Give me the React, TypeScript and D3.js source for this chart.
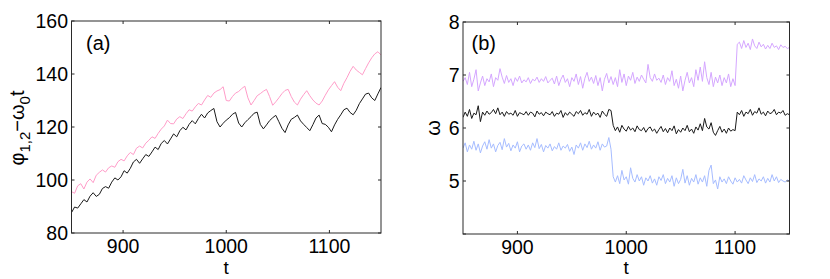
import React from "react";
import * as d3 from "d3";

// Panel (a): phases minus omega0 t, sampled every 3 time units from 850 to 1150
const phaseBlack = [
  87.7, 89.8, 89.4, 91.0, 92.6, 91.7, 93.9, 95.2, 93.8, 94.6,
  96.8, 97.5, 96.9, 99.2, 100.8, 100.0, 101.2, 103.5, 102.6, 104.4,
  106.8, 107.8, 106.3, 108.0, 109.6, 108.9, 110.6, 112.4, 111.5, 113.8,
  114.9, 113.6, 115.5, 117.4, 116.3, 118.6, 119.9, 118.9, 121.0, 122.4,
  121.2, 123.2, 124.8, 123.4, 125.3, 126.2, 127.0, 122.0, 120.0, 121.4,
  122.6, 123.5, 124.8, 125.5, 121.5, 120.0, 121.6, 122.8, 123.9, 125.2,
  125.6, 121.0, 119.3, 120.8, 122.4, 123.5, 124.4, 122.0, 119.5, 117.9,
  120.8, 122.9, 123.6, 124.5, 122.3, 121.0, 119.8, 118.6, 120.9, 123.4,
  124.5, 121.3, 121.0, 119.9, 118.2, 120.8, 122.9, 124.6, 126.5, 127.1,
  125.5, 124.6, 126.3, 128.8, 130.6, 132.4, 132.8, 131.0, 130.0, 132.5,
  134.9,
];
const phasePink = [
  95.6, 95.0, 97.8, 98.6, 96.6, 99.2, 100.4, 99.0, 101.8, 102.9,
  103.8, 103.0, 104.6, 105.3, 104.8, 106.9, 107.8, 107.2, 109.1, 110.4,
  109.6, 112.0, 112.8, 112.1, 113.9, 115.0, 116.3, 115.7, 117.6, 119.2,
  120.4, 122.6, 121.3, 121.2, 123.0, 123.9, 123.2, 125.0, 126.5, 126.0,
  127.6, 128.9, 128.3, 130.2, 131.9, 131.2, 132.8, 133.6, 134.1, 135.2,
  130.0, 129.8, 131.5, 132.8, 133.4, 134.5, 135.4, 131.0, 128.3, 130.0,
  131.8, 132.6, 133.5, 134.2, 131.5, 128.2, 129.5, 131.0, 132.6, 133.8,
  134.2, 131.5, 129.4, 128.3, 130.5, 132.2, 133.7, 131.8, 130.2, 129.0,
  128.3, 129.8, 132.0, 134.0, 135.6, 137.1, 135.0, 133.7, 136.5, 138.6,
  141.0, 142.9, 141.5, 140.6, 139.7, 142.0, 144.2, 146.1, 147.6, 148.4,
  147.2,
];

// Panel (b): frequencies, sampled every 2 time units from 850 to 1150
const omegaPurple = [
  6.88, 6.95, 6.82, 7.05, 6.78, 6.92, 7.10, 6.70, 6.85, 6.98,
  6.80, 6.93, 6.87, 7.02, 6.78, 6.95, 6.90, 7.12, 6.96, 6.84,
  6.99, 6.86, 6.93, 6.80, 6.95, 6.88, 6.98, 6.85, 6.91, 6.87,
  6.95, 6.84, 6.92, 6.89, 6.96, 6.86, 6.93, 6.88, 6.97, 6.85,
  6.90, 6.94, 6.83, 6.98, 6.80, 6.92, 7.00, 6.86, 6.93, 6.78,
  6.95, 6.88, 7.02, 6.82, 6.97, 6.75, 6.94, 7.05, 6.88, 6.96,
  6.84, 6.99, 6.80, 6.95, 6.70, 6.92, 7.03, 6.85, 6.97, 6.82,
  6.95, 6.78, 7.10, 6.86, 7.02, 6.80, 6.98, 6.90, 7.05, 6.84,
  6.96, 6.88, 7.00, 6.92, 6.85, 7.20, 6.95, 6.88, 7.02, 6.90,
  6.94, 6.86, 7.00, 6.82, 6.95, 6.88, 7.08, 6.80, 6.92, 6.75,
  6.98, 6.70, 6.90, 7.05, 6.85, 6.95, 6.78, 7.10, 6.90, 7.15,
  6.88, 7.25, 6.95, 6.82, 7.05, 6.78, 6.96, 6.85, 7.00, 6.80,
  6.95, 6.85, 7.02, 6.78, 6.93, 6.80, 7.58, 7.62, 7.50, 7.65,
  7.52, 7.60, 7.48, 7.68, 7.55, 7.50, 7.62, 7.53, 7.58, 7.49,
  7.56, 7.50, 7.60, 7.52, 7.55, 7.48, 7.57, 7.52, 7.54, 7.50,
  7.52,
];
const omegaBlack = [
  6.20, 6.30, 6.22, 6.35, 6.18, 6.28, 6.25, 6.42, 6.12, 6.30,
  6.24, 6.32, 6.26, 6.29, 6.35, 6.27, 6.38, 6.25, 6.30, 6.22,
  6.31, 6.26, 6.28, 6.24, 6.33, 6.22, 6.29, 6.27, 6.25, 6.31,
  6.24, 6.30, 6.28, 6.21, 6.32, 6.26, 6.29, 6.23, 6.30, 6.27,
  6.25, 6.31, 6.22, 6.28, 6.26, 6.33, 6.20, 6.29, 6.24, 6.30,
  6.26, 6.22, 6.31, 6.27, 6.33, 6.24, 6.29, 6.26, 6.35, 6.22,
  6.30, 6.25, 6.28, 6.20, 6.32, 6.26, 6.22, 6.35, 6.33, 6.05,
  5.95, 6.02, 5.92, 6.05, 5.98, 5.94, 6.03, 5.96, 6.00, 5.93,
  6.04, 5.97, 5.95, 6.01, 5.92, 5.99, 6.02, 5.94, 5.98, 5.90,
  5.97, 6.03, 5.93, 5.99, 5.91, 6.00, 5.95, 6.04, 5.89, 5.97,
  5.92, 6.00, 5.95, 6.05, 5.93, 5.98, 5.90, 6.02, 5.96, 6.08,
  5.95, 6.18, 6.02, 5.98, 6.10, 5.92, 5.86, 5.95, 6.03, 5.92,
  5.98, 5.90, 6.00, 5.94, 5.97, 5.95, 6.30, 6.25, 6.33, 6.22,
  6.30, 6.27, 6.35, 6.24, 6.31, 6.28, 6.38, 6.26, 6.30, 6.23,
  6.32, 6.27, 6.29, 6.35, 6.25, 6.30, 6.28, 6.33, 6.24, 6.27,
  6.25,
];
const omegaBlue = [
  5.62, 5.72, 5.55, 5.68, 5.60, 5.75, 5.58, 5.70, 5.53, 5.66,
  5.74, 5.60, 5.78, 5.62, 5.70, 5.55, 5.67, 5.73, 5.59, 5.80,
  5.64, 5.71, 5.57, 5.68, 5.62, 5.74, 5.55, 5.66, 5.70, 5.60,
  5.68, 5.58, 5.72, 5.63, 5.80, 5.61, 5.69, 5.55, 5.67, 5.62,
  5.70, 5.57, 5.65, 5.60, 5.72, 5.58, 5.66, 5.62, 5.69, 5.56,
  5.64, 5.50, 5.68, 5.62, 5.72, 5.58, 5.70, 5.63, 5.75, 5.60,
  5.68, 5.62, 5.74, 5.58, 5.70, 5.64, 5.66, 5.82, 5.60, 5.08,
  4.98, 5.10, 4.95, 5.20, 5.02, 5.08, 4.94, 5.25, 5.05, 4.98,
  5.12, 5.00, 5.08, 4.92, 5.06, 5.00, 5.10, 4.96, 5.04, 4.92,
  5.08, 5.01, 5.12, 4.95, 5.05, 4.98, 5.10, 4.90, 5.06, 4.95,
  5.03, 5.22, 4.96, 5.10, 4.92, 5.05, 4.98, 5.12, 4.94, 5.06,
  4.98, 5.10, 4.90, 5.20, 5.30, 4.95, 5.02, 4.85, 5.08, 4.98,
  5.04, 4.95, 5.08, 5.00, 4.94, 5.06, 4.98, 5.03, 4.96, 5.10,
  5.02, 4.95, 5.06, 4.99, 5.12, 4.97, 5.04, 5.00, 5.08, 4.96,
  5.05, 4.98, 5.12, 5.00, 5.08, 4.97, 5.03, 5.00, 4.98, 5.02,
  5.00,
];

const tDomain: [number, number] = [850, 1150];
const xTicks = [900, 1000, 1100];
const yTicksA = [80, 100, 120, 140, 160];
const yTicksB = [5, 6, 7, 8];
const yTickMarksB = [4, 5, 6, 7, 8];

const FONT = "'Liberation Sans', Arial, Helvetica, sans-serif";
const FRAME = "#2a2a2a";

type Series = { values: number[]; color: string };

function toPoints(values: number[]): [number, number][] {
  const n = values.length;
  return values.map((v, i) => [tDomain[0] + (i * (tDomain[1] - tDomain[0])) / (n - 1), v]);
}

function Panel(props: {
  left: number; right: number; top: number; bottom: number;
  yDomain: [number, number]; yTickLabels: number[]; yTickMarks: number[];
  series: Series[]; tag: string; tagX: number; yLabel: React.ReactNode;
}) {
  const { left, right, top, bottom, yDomain, yTickLabels, yTickMarks, series, tag, tagX, yLabel } = props;
  const x = d3.scaleLinear().domain(tDomain).range([left, right]);
  const y = d3.scaleLinear().domain(yDomain).range([bottom, top]);
  const line = d3.line<[number, number]>().x((d) => x(d[0])).y((d) => y(d[1]));
  const tl = 3;
  return (
    <g>
      <defs>
        <clipPath id={"clip" + tag.replace(/[()]/g, "")}>
          <rect x={left} y={top} width={right - left} height={bottom - top} />
        </clipPath>
      </defs>
      <g clipPath={`url(#clip${tag.replace(/[()]/g, "")})`}>
        {series.map((s, i) => (
          <path key={i} d={line(toPoints(s.values)) || ""} fill="none" stroke={s.color} strokeWidth={1} strokeLinejoin="round" />
        ))}
      </g>
      <rect x={left} y={top} width={right - left} height={bottom - top} fill="none" stroke={FRAME} strokeWidth={1} />
      {xTicks.map((t) => (
        <g key={"xt" + t}>
          <line x1={x(t)} x2={x(t)} y1={bottom} y2={bottom - tl} stroke={FRAME} />
          <line x1={x(t)} x2={x(t)} y1={top} y2={top + tl} stroke={FRAME} />
          <text x={x(t)} y={bottom + 20} textAnchor="middle" fontSize={19.5} fontFamily={FONT} fill="#000">{t}</text>
        </g>
      ))}
      {yTickMarks.map((v) => (
        <g key={"ym" + v}>
          <line x1={left} x2={left + tl} y1={y(v)} y2={y(v)} stroke={FRAME} />
          <line x1={right} x2={right - tl} y1={y(v)} y2={y(v)} stroke={FRAME} />
        </g>
      ))}
      {yTickLabels.map((v) => (
        <text key={"yl" + v} x={left - 3.5} y={y(v)} dy="0.36em" textAnchor="end" fontSize={19.5} fontFamily={FONT} fill="#000">{v}</text>
      ))}
      <text x={(left + right) / 2} y={274} textAnchor="middle" fontSize={19} fontFamily={FONT} fill="#000">t</text>
      <text x={tagX} y={50} fontSize={20} fontFamily={FONT} fill="#000">{tag}</text>
      {yLabel}
    </g>
  );
}

export default function App() {
  const yLabelA = (
    <text transform={`translate(23.5,128) rotate(-90)`} textAnchor="middle" fontSize={20} fontFamily={FONT} fill="#000">
      <tspan>φ</tspan>
      <tspan fontSize={15} dy={6}>1,2</tspan>
      <tspan dy={-6}>−ω</tspan>
      <tspan fontSize={15} dy={6}>0</tspan>
      <tspan dy={-6}>t</tspan>
    </text>
  );
  const yLabelB = (
    <text transform={`translate(440,128) rotate(-90)`} textAnchor="middle" fontSize={20} fontFamily={FONT} fill="#000">ω</text>
  );
  return (
    <svg width={830} height={279} style={{ position: "absolute", left: 0, top: 0, background: "#fff" }}>
      <rect x={0} y={0} width={830} height={279} fill="#fff" />
      <Panel
        left={71.5} right={381} top={21} bottom={233}
        yDomain={[80, 160]} yTickLabels={yTicksA} yTickMarks={yTicksA}
        series={[{ values: phasePink, color: "#ff9cc8" }, { values: phaseBlack, color: "#1a1a1a" }]}
        tag="(a)" tagX={86} yLabel={yLabelA}
      />
      <Panel
        left={463} right={789.5} top={22} bottom={234}
        yDomain={[4, 8]} yTickLabels={yTicksB} yTickMarks={yTickMarksB}
        series={[
          { values: omegaPurple, color: "#d4a6ff" },
          { values: omegaBlue, color: "#a6bcff" },
          { values: omegaBlack, color: "#1a1a1a" },
        ]}
        tag="(b)" tagX={471.5} yLabel={yLabelB}
      />
    </svg>
  );
}
